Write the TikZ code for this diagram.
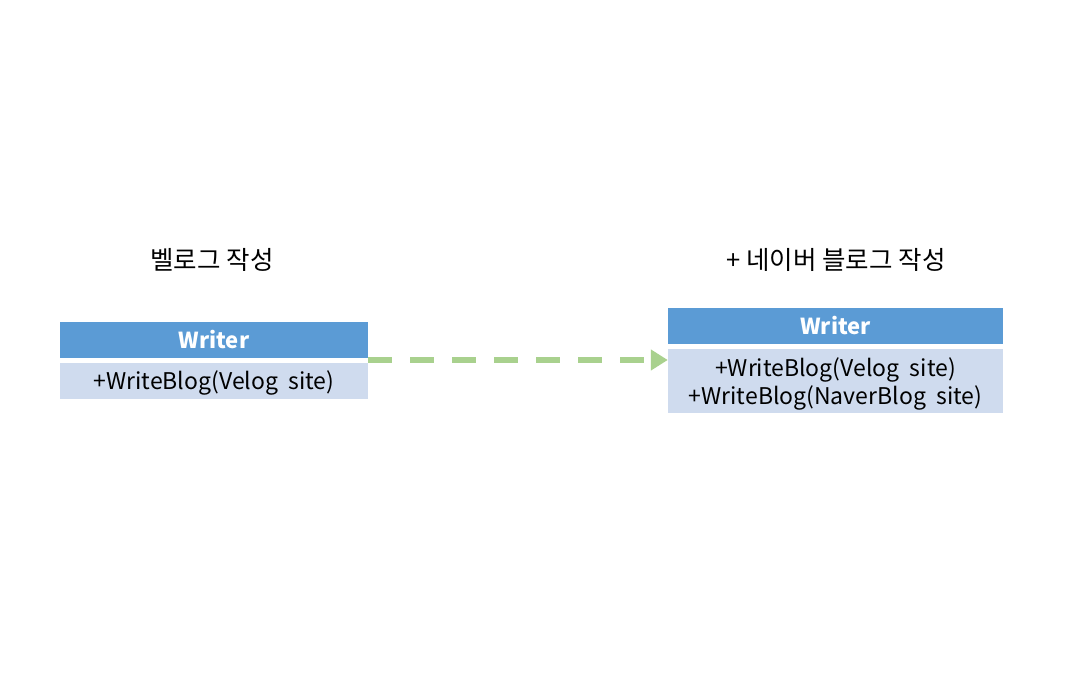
\documentclass[tikz,border=0pt]{standalone}
\usepackage{fontspec}
\setmainfont{Noto Sans CJK KR}
\usetikzlibrary{arrows.meta}
\definecolor{hdr}{HTML}{5B9BD5}
\definecolor{bdy}{HTML}{CFDBEE}
\definecolor{arr}{HTML}{A9D18E}
\tikzset{
  hdrbox/.style={fill=hdr, draw=none, inner sep=0pt, text=white, font=\fontsize{22}{24}\selectfont\bfseries},
  bdybox/.style={fill=bdy, draw=none, inner sep=0pt},
  bdytext/.style={inner sep=0pt, font=\fontsize{23}{28}\selectfont, align=center},
  title/.style={font=\fontsize{25.5}{28}\selectfont, inner sep=0pt},
  conn/.style={arr, line width=6pt, dash pattern=on 24pt off 18pt, -{Triangle[length=17pt,width=20pt]}}
}
\begin{document}
\begin{tikzpicture}[x=1pt,y=-1pt]
\useasboundingbox (0,0) rectangle (1066,695);
% left class
\node[hdrbox, minimum width=308pt, minimum height=36pt] (lh) at (214,340) {Writer};
\node[bdybox, minimum width=308pt, minimum height=36pt] (lb) at (214,381) {};
\node[bdytext] (lbt) at (214,383) {+WriteBlog(Velog\ \ site)};
% right class
\node[hdrbox, minimum width=335pt, minimum height=36pt] (rh) at (835.5,326) {Writer};
\node[bdybox, minimum width=335pt, minimum height=64pt] (rb) at (835.5,381) {};
\node[bdytext] (rbt) at (835.5,384) {+WriteBlog(Velog\ \ site)\\+WriteBlog(NaverBlog\ \ site)};
% titles
\node[title] (lt) at (212,260) {벨로그 작성};
\node[title] (rt) at (836,260) {+ 네이버 블로그 작성};
% connector
\draw[conn] (lb.north east |- 0,360) -- (rb.west |- 0,360);
\end{tikzpicture}
\end{document}
